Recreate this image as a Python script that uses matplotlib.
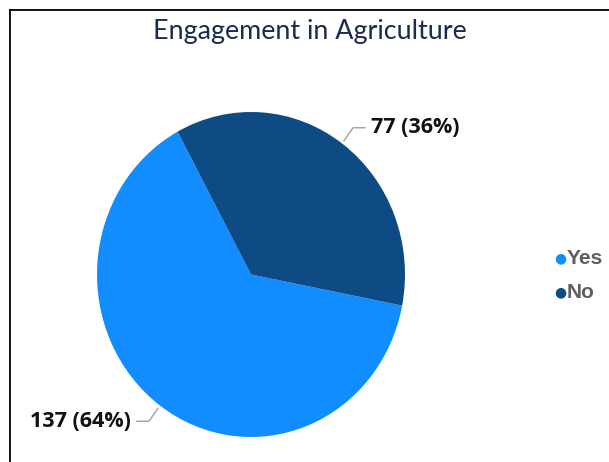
import numpy as np
import matplotlib.pyplot as plt
from matplotlib.lines import Line2D

title = "Engagement in Agriculture"
categories = ["Yes", "No"]
counts = [137, 77]
colors = ["#118DFF", "#0E4A84"]

fig = plt.figure(figsize=(6.09, 4.62), dpi=100)
fig.patch.set_facecolor("white")

# frame lines along the top and left edge
fig.add_artist(Line2D([10 / 609, 1], [1 - 10 / 462] * 2, color="black", lw=1.3))
fig.add_artist(Line2D([10 / 609] * 2, [0, 1 - 10 / 462], color="black", lw=1.3))

fig.text(310 / 609, 1 - 31 / 462, title, ha="center", va="center",
         fontsize=19.4, family="Lato", color="#1B2B4B")

ax = fig.add_axes([97 / 609, 25 / 462, 308 / 609, 325 / 462])
start = 118.5
wedges, _ = ax.pie(counts, colors=colors, startangle=start, counterclock=True,
                   radius=1, wedgeprops=dict(linewidth=0))
ax.set_xlim(-1, 1)
ax.set_ylim(-1, 1)
ax.set_aspect("auto")
ax.axis("off")

total = sum(counts)
for w, n in zip(wedges, counts):
    mid = np.deg2rad((w.theta1 + w.theta2) / 2)
    cx, cy = np.cos(mid), np.sin(mid)
    sx, sy = 1.02 * cx, 1.02 * cy
    ex, ey = 1.12 * cx, 1.12 * cy
    side = 1 if cx > 0 else -1
    hx = ex + side * 0.078
    ax.plot([sx, ex, hx], [sy, ey, ey], color="#A0A0A0", lw=1,
            clip_on=False)
    ax.text(hx + side * 0.04, ey, f"{n} ({n / total:.0%})",
            ha="left" if side > 0 else "right", va="center",
            fontsize=15.5, fontweight="bold", family="Open Sans",
            color="#111111", clip_on=False)

# legend with dot markers
for i, (lab, col) in enumerate(zip(categories, colors)):
    y = 1 - (258 + 34 * i) / 462
    fig.text(560 / 609, y, "\u25CF", ha="center", va="center",
             fontsize=10, color=col)
    fig.text(567 / 609, y, lab, ha="left", va="center", fontsize=15,
             fontweight="bold", family="Liberation Sans", color="#605E5C")

fig.savefig("out.png", dpi=100)
